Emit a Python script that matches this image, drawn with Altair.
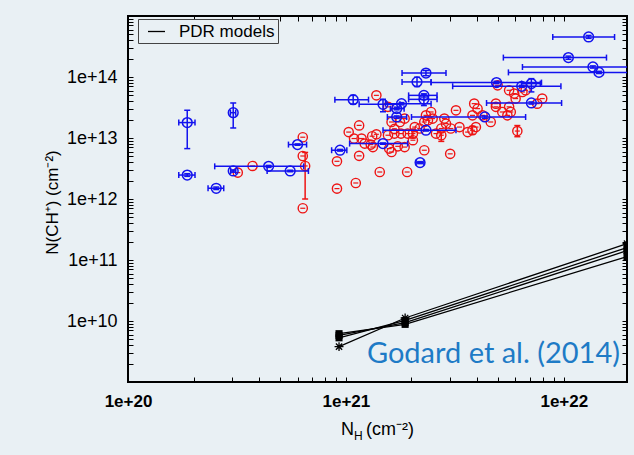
import altair as alt
import pandas as pd

BG = "#E9F0F4"
BLUE = "#1212EE"
RED = "#EE1414"
CITE = "#1E7BC6"
FONT = "Liberation Sans"

# ---------------- blue sample (with error bars) ----------------
blue_x = [1.87e20, 3.04e20, 1.87e20, 2.54e20, 3.04e20, 4.42e20, 5.55e20, 6.0e20,
          1.30e22, 1.05e22, 1.36e22, 1.45e22, 2.33e21, 2.12e21, 4.91e21, 6.41e21,
          7.1e21, 2.28e21, 2.28e21, 1.08e21, 1.48e21, 1.8e21, 1.71e21, 1.71e21,
          4.34e21, 7.1e21, 2.33e21, 1.48e21, 9.4e20, 2.19e21]
blue_y = [1.79e13, 2.6e13, 2.47e12, 1.5e12, 2.88e12, 3.43e12, 2.88e12, 7.8e12,
          4.53e14, 2.08e14, 1.46e14, 1.19e14, 1.16e14, 8.3e13, 8.1e13, 7.05e13,
          7.8e13, 5.0e13, 4.3e13, 4.25e13, 3.56e13, 3.66e13, 3.03e13, 2.21e13,
          2.21e13, 3.75e13, 1.34e13, 8.1e12, 6.3e12, 3.95e12]
blue_xlo = [1.71e20, 2.95e20, 1.71e20, 2.33e20, 2.96e20, 2.5e20, 4.35e20, 5.45e20,
            8.9e21, 5.28e21, 6.46e21, 5.57e21, 1.81e21, 1.81e21, 2.46e21, 3.09e21,
            6.4e21, 1.94e21, 1.94e21, 8.9e20, 1.15e21, 1.52e21, 1.6e21, 1.55e21,
            2.0e21, 4.42e21, 1.48e21, 1.04e21, 8.6e20, 2.1e21]
blue_xhi = [2.03e20, 3.12e20, 2.03e20, 2.75e20, 3.12e20, 6.4e20, 6.73e20, 6.6e20,
            1.71e22, 1.57e22, 2.5e22, 2.5e22, 2.88e21, 2.46e21, 7.9e21, 9.7e21,
            7.8e21, 2.62e21, 2.62e21, 1.27e21, 1.77e21, 2.46e21, 1.85e21, 1.9e21,
            6.68e21, 9.77e21, 3.2e21, 1.92e21, 1.01e21, 2.28e21]
blue_ylo = [6.7e12, 1.46e13, 2.35e12, 1.43e12, 2.75e12, 3.3e12, 2.8e12, 7.6e12,
            4.3e14, 1.95e14, 1.4e14, 1.14e14, 1.05e14, 7.0e13, 7.8e13, 6.8e13,
            5.7e13, 4.7e13, 3.4e13, 3.6e13, 2.7e13, 3.5e13, 2.9e13, 2.1e13,
            2.1e13, 3.6e13, 1.3e13, 7.9e12, 6.1e12, 3.8e12]
blue_yhi = [2.85e13, 3.75e13, 2.6e12, 1.57e12, 3.0e12, 3.55e12, 2.96e12, 8.0e12,
            4.8e14, 2.2e14, 1.52e14, 1.24e14, 1.28e14, 9.9e13, 8.5e13, 7.3e13,
            9.4e13, 5.3e13, 5.0e13, 5.0e13, 4.3e13, 3.8e13, 3.2e13, 2.3e13,
            2.3e13, 3.9e13, 1.38e13, 8.3e12, 6.5e12, 4.1e12]

# ---------------- red sample ----------------
red_x = [1.38e21, 1.03e21, 1.15e21, 1.09e21, 1.18e21, 1.32e21, 1.38e21, 1.33e21, 1.30e21, 1.58e21,
         1.62e21, 1.73e21, 1.86e21, 1.56e21, 1.67e21, 1.79e21, 1.92e21, 2.07e21, 1.67e21, 2.03e21,
         2.33e21, 2.46e21, 2.5e21, 2.29e21, 2.83e21, 2.88e21, 2.59e21, 2.74e21, 3.03e21, 3.32e21,
         3.2e21, 3.81e21, 3.95e21, 3.88e21, 4.02e21, 3.81e21, 4.24e21, 4.62e21, 4.88e21, 4.97e21,
         5.22e21, 5.61e21, 5.71e21, 5.61e21, 5.92e21, 6.01e21, 6.46e21, 6.68e21, 7.55e21, 7.96e21,
         6.12e21, 2.29e21, 3.01e21, 1.15e21, 9.1e20, 9.1e20, 1.11e21, 1.43e21, 1.91e21, 1.56e21,
         1.86e21, 1.62e21, 1.77e21, 2.38e21, 2.18e21, 3.73e20, 3.19e20, 6.34e20, 6.34e20, 6.5e20,
         6.34e20, 1.22e21, 2.03e21, 4.88e21, 5.51e21, 3.62e21, 2.74e21]
red_y = [5.0e13, 1.25e13, 1.61e13, 9.8e12, 9.8e12, 1.07e13, 1.15e13, 7.1e12, 7.8e12, 6.7e12,
         5.9e12, 7.3e12, 7.1e12, 1.11e13, 1.18e13, 1.18e13, 1.18e13, 1.51e13, 1.41e13, 1.18e13,
         2.35e13, 2.67e13, 2.08e13, 1.83e13, 2.08e13, 1.72e13, 1.18e13, 1.11e13, 1.43e13, 1.51e13,
         2.84e13, 1.34e13, 1.51e13, 3.66e13, 3.03e13, 2.35e13, 2.35e13, 1.83e13, 3.24e13, 7.3e13,
         2.67e13, 3.24e13, 2.67e13, 6.05e13, 5.35e13, 4.43e13, 5.68e13, 6.05e13, 3.66e13, 4.43e13,
         1.30e13, 6.3e12, 5.5e12, 5.1e12, 4.15e12, 1.48e12, 1.83e12, 2.77e12, 2.77e12, 3.24e13,
         2.08e13, 1.83e13, 1.83e13, 1.95e13, 1.43e13, 3.48e12, 2.71e12, 1.03e13, 5.07e12, 3.48e12,
         7.05e11, 8.1e12, 9.2e12, 3.66e13, 2.35e13, 1.25e13, 1.43e13]

# red points with visible vertical error bars
red_bar_x = [6.5e20, 6.12e21, 2.03e21, 2.74e21, 3.81e21]
red_bar_lo = [1.0e12, 1.05e13, 1.0e13, 8.8e12, 1.15e13]
red_bar_hi = [5.8e12, 1.6e13, 1.38e13, 1.25e13, 1.55e13]

# ---------------- PDR models ----------------
model_x = [9.3e20, 1.87e21, 1.95e22]
model_star = [3.8e9, 1.12e10, 1.85e11]
model_a = [5.3e9, 1.02e10, 1.6e11]
model_b = [5.8e9, 9.4e9, 1.42e11]
model_c = [6.2e9, 8.8e9, 1.14e11]

# ---------------- axes ----------------
XDOM = [1e20, 1.95e22]
YDOM = [1e9, 1e15]
x_major = [1e20, 1e21, 1e22]
x_labels = ["1e+20", "1e+21", "1e+22"]
y_major = [1e10, 1e11, 1e12, 1e13, 1e14]
y_labels = ["1e+10", "1e+11", "1e+12", "1e+13", "1e+14"]
x_ticks = [m * 10.0 ** k for k in (20, 21) for m in range(1, 10)] + [1e22]
y_ticks = [m * 10.0 ** k for k in range(9, 15) for m in range(1, 10)] + [1e15]


def label_expr(values, labels):
    s = ""
    for v, lab in zip(values, labels):
        s += f"abs(datum.value / {v:.0e} - 1) < 1e-6 ? '{lab}' : "
    return s + "''"


xs = alt.Scale(type="log", domain=XDOM, nice=False)
ys = alt.Scale(type="log", domain=YDOM, nice=False)

blue_df = pd.DataFrame(dict(x=blue_x, y=blue_y, xlo=blue_xlo, xhi=blue_xhi,
                            ylo=blue_ylo, yhi=blue_yhi))
red_df = pd.DataFrame(dict(x=red_x, y=red_y))
rbar_df = pd.DataFrame(dict(x=red_bar_x, lo=red_bar_lo, hi=red_bar_hi))

rows = []
for name, ys_ in (("star", model_star), ("a", model_a), ("b", model_b), ("c", model_c)):
    for xv, yv in zip(model_x, ys_):
        rows.append(dict(x=xv, y=yv, model=name, series="PDR models"))
model_df = pd.DataFrame(rows)

NOAX = dict(axis=None)

x_axis_main = alt.Axis(values=x_ticks, labelExpr=label_expr(x_major, x_labels),
                       orient="bottom", offset=-5, tickSize=5, tickWidth=1, tickColor="black",
                       domain=False, grid=False, labelFont=FONT, labelFontSize=17,
                       labelFontWeight="bold", labelColor="black", labelPadding=11,
                       labelFlush=False, labelOverlap=False, title=None)
y_axis_main = alt.Axis(values=y_ticks, labelExpr=label_expr(y_major, y_labels),
                       orient="left", offset=-5, tickSize=5, tickWidth=1, tickColor="black",
                       domain=False, grid=False, labelFont=FONT, labelFontSize=18,
                       labelColor="black", labelPadding=11, labelFlush=False,
                       labelOverlap=False,
                       title="N(CH\u207a) (cm\u207b\u00b2)", titleFont=FONT, titleFontSize=17,
                       titleFontWeight="normal", titleColor="black", titleX=-81, titleY=186,
                       titleAlign="center", titleBaseline="middle", titleAngle=270)
x_axis_top = alt.Axis(values=x_ticks, orient="top", offset=-5, tickSize=5, tickWidth=1,
                      tickColor="black", domain=False, grid=False, labels=False, title=None)
y_axis_right = alt.Axis(values=y_ticks, orient="right", offset=-5, tickSize=5, tickWidth=1,
                        tickColor="black", domain=False, grid=False, labels=False, title=None)

# ----- models -----
model_lines = alt.Chart(model_df).mark_line(strokeWidth=1.3, opacity=1).encode(
    x=alt.X("x:Q", scale=xs, **NOAX),
    y=alt.Y("y:Q", scale=ys, **NOAX),
    detail="model:N",
    color=alt.Color("series:N", scale=alt.Scale(domain=["PDR models"], range=["black"]),
                    legend=alt.Legend(orient="none", legendX=10, legendY=3, title=None,
                                      fillColor=BG, strokeColor="#444", padding=3,
                                      symbolOffset=6, labelFontSize=17, labelFont=FONT,
                                      labelColor="black", symbolSize=290,
                                      symbolStrokeWidth=1.3, labelOffset=13,
                                      symbolType="stroke")),
)
STAR = "M -1 0 L 1 0 M 0 -1 L 0 1 M -0.7 -0.7 L 0.7 0.7 M -0.7 0.7 L 0.7 -0.7"
model_sq = alt.Chart(model_df).transform_filter("datum.model != 'star'").mark_square(
    size=50, color="black", opacity=1, clip=True).encode(
    x=alt.X("x:Q", scale=xs, **NOAX), y=alt.Y("y:Q", scale=ys, **NOAX))
model_st = alt.Chart(model_df).transform_filter("datum.model == 'star'").mark_point(
    shape=STAR, size=80, filled=False, color="black", strokeWidth=1.3, opacity=1,
    clip=True).encode(
    x=alt.X("x:Q", scale=xs, **NOAX), y=alt.Y("y:Q", scale=ys, **NOAX))

# ----- red -----
red_bars = alt.Chart(rbar_df).mark_rule(color=RED, strokeWidth=1.5, opacity=1).encode(
    x=alt.X("x:Q", scale=xs, **NOAX), y=alt.Y("lo:Q", scale=ys, **NOAX), y2="hi:Q")
red_caps_lo = alt.Chart(rbar_df).mark_tick(orient="horizontal", size=6, thickness=1.5,
                                            color=RED, opacity=1).encode(
    x=alt.X("x:Q", scale=xs, **NOAX), y=alt.Y("lo:Q", scale=ys, **NOAX))
red_caps_hi = alt.Chart(rbar_df).mark_tick(orient="horizontal", size=6, thickness=1.5,
                                            color=RED, opacity=1).encode(
    x=alt.X("x:Q", scale=xs, **NOAX), y=alt.Y("hi:Q", scale=ys, **NOAX))
red_pts = alt.Chart(red_df).mark_point(shape="circle", filled=False, size=85, color=RED,
                                        strokeWidth=1.4, opacity=1).encode(
    x=alt.X("x:Q", scale=xs, **NOAX), y=alt.Y("y:Q", scale=ys, **NOAX))
red_inner = alt.Chart(red_df).mark_tick(orient="horizontal", size=5, thickness=1.2,
                                         color=RED, opacity=1).encode(
    x=alt.X("x:Q", scale=xs, **NOAX), y=alt.Y("y:Q", scale=ys, **NOAX))

# ----- blue -----
b_xerr = alt.Chart(blue_df).mark_rule(color=BLUE, strokeWidth=1.5, opacity=1, clip=True).encode(
    x=alt.X("xlo:Q", scale=xs, **NOAX), x2="xhi:Q", y=alt.Y("y:Q", scale=ys, **NOAX))
b_yerr = alt.Chart(blue_df).mark_rule(color=BLUE, strokeWidth=1.5, opacity=1, clip=True).encode(
    x=alt.X("x:Q", scale=xs, **NOAX), y=alt.Y("ylo:Q", scale=ys, **NOAX), y2="yhi:Q")
b_caps = []
for fx, fy, ori in (("xlo", "y", "vertical"), ("xhi", "y", "vertical"),
                    ("x", "ylo", "horizontal"), ("x", "yhi", "horizontal")):
    b_caps.append(alt.Chart(blue_df).mark_tick(orient=ori, size=6, thickness=1.5, color=BLUE,
                                               opacity=1, clip=True).encode(
        x=alt.X(f"{fx}:Q", scale=xs, **NOAX), y=alt.Y(f"{fy}:Q", scale=ys, **NOAX)))
blue_pts = alt.Chart(blue_df).mark_point(shape="circle", filled=False, size=95, color=BLUE,
                                          strokeWidth=1.5, opacity=1).encode(
    x=alt.X("x:Q", scale=xs, axis=x_axis_main), y=alt.Y("y:Q", scale=ys, axis=y_axis_main))

# mirror axes (top / right) with inward ticks
mirror = alt.Chart(red_df).mark_point(opacity=0).encode(
    x=alt.X("x:Q", scale=xs, axis=x_axis_top), y=alt.Y("y:Q", scale=ys, axis=y_axis_right))

# ----- texts -----
def txt(s, x, y, size, color="black", align="left", font=FONT):
    return alt.Chart(pd.DataFrame({"t": [s]})).mark_text(
        font=font, fontSize=size, color=color, align=align, baseline="alphabetic").encode(
        x=alt.value(x), y=alt.value(y), text="t:N")

cite = txt("Godard et al. (2014)", 492, 347, 29, CITE, "right", "Lato")
xt_n = txt("N", 213, 419, 18)
xt_h = txt("H", 226, 424, 12)
xt_u = txt("(cm\u207b\u00b2)", 238, 419, 18)

chart = alt.layer(
    model_lines, model_sq, model_st,
    red_bars, red_caps_lo, red_caps_hi, red_pts, red_inner,
    b_xerr, b_yerr, *b_caps, blue_pts,
    mirror, cite, xt_n, xt_h, xt_u,
).resolve_axis(x="independent", y="independent").properties(
    width=499, height=366,
    autosize=alt.AutoSizeParams(type="none"),
    padding={"left": 128, "top": 16, "right": 7, "bottom": 73},
    background=BG,
).configure_view(stroke="black", strokeWidth=2, fill=BG)

chart.save("out.html", embed_options={"renderer": "svg", "actions": False})
